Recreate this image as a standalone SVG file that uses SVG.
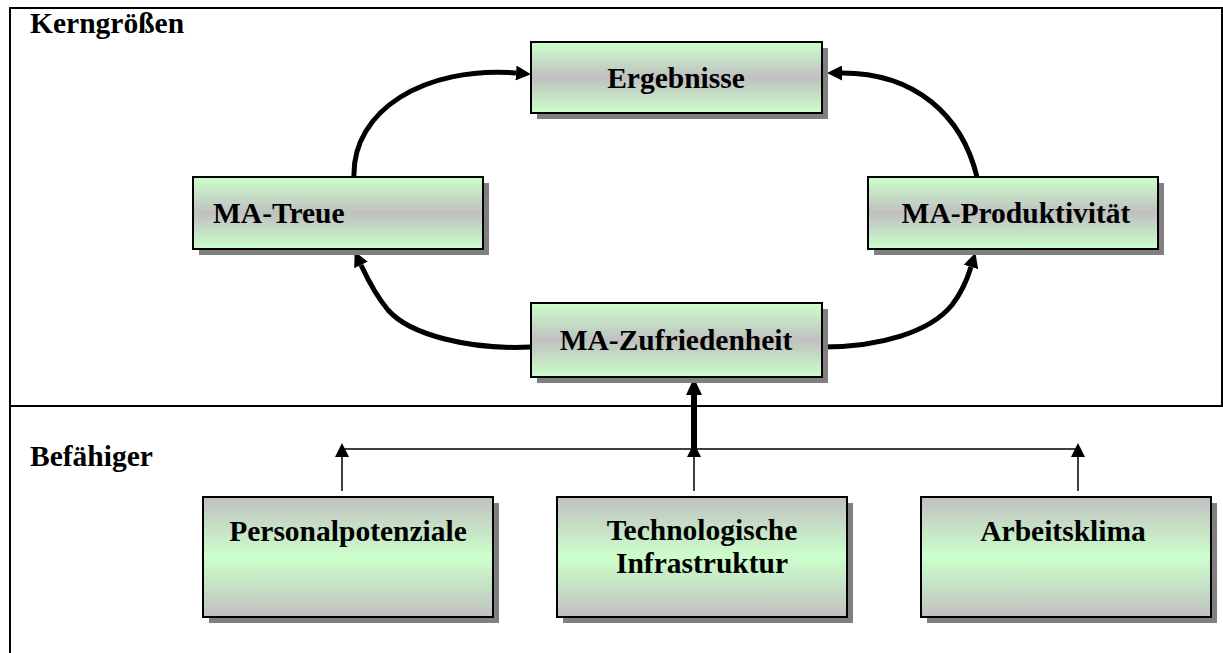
<svg xmlns="http://www.w3.org/2000/svg" width="1223" height="653" viewBox="0 0 1223 653">
  <defs>
    <!-- core nodes: green edges, grey band in the middle -->
    <linearGradient id="gradCore" x1="0" y1="0" x2="0" y2="1">
      <stop offset="0" stop-color="#ccffcc"/>
      <stop offset="0.5" stop-color="#c0c0c0"/>
      <stop offset="1" stop-color="#ccffcc"/>
    </linearGradient>
    <!-- enabler nodes: grey edges, green band in the middle -->
    <linearGradient id="gradEnabler" x1="0" y1="0" x2="0" y2="1">
      <stop offset="0" stop-color="#c0c0c0"/>
      <stop offset="0.5" stop-color="#ccffcc"/>
      <stop offset="1" stop-color="#c0c0c0"/>
    </linearGradient>
    <marker id="headBold" markerUnits="userSpaceOnUse" viewBox="0 0 15 15" refX="0" refY="7.5" markerWidth="15" markerHeight="15" orient="auto">
      <path d="M0,0 L15,7.5 L0,15 Z" fill="#000"/>
    </marker>
    <marker id="headThin" markerUnits="userSpaceOnUse" viewBox="0 0 14 14" refX="0" refY="7" markerWidth="14" markerHeight="14" orient="auto">
      <path d="M0,0 L14,7 L0,14 Z" fill="#000"/>
    </marker>
    <marker id="headThick" markerUnits="userSpaceOnUse" viewBox="0 0 17 16" refX="0" refY="8" markerWidth="17" markerHeight="16" orient="auto">
      <path d="M0,0 L17,8 L0,16 Z" fill="#000"/>
    </marker>
  </defs>
  <style>
    .frame { stroke: #000; stroke-width: 2; fill: none; }
    .shadow { fill: #808080; }
    .box { stroke: #000; stroke-width: 2; }
    .core { fill: url(#gradCore); }
    .enabler { fill: url(#gradEnabler); }
    .label { font-family: "Liberation Serif", "Times New Roman", serif; font-weight: bold; font-size: 29.5px; fill: #000; }
    .mid { text-anchor: middle; }
    .curve { stroke: #000; stroke-width: 5; fill: none; marker-end: url(#headBold); }
    .thin { stroke: #000; stroke-width: 1.5; fill: none; }
    .thinArrow { stroke: #000; stroke-width: 1.5; fill: none; marker-end: url(#headThin); }
    .thickArrow { stroke: #000; stroke-width: 6; fill: none; marker-end: url(#headThick); }
  </style>

  <rect width="1223" height="653" fill="#fff"/>

  <!-- frame and section divider -->
  <g id="frame">
    <line class="frame" x1="9" y1="8" x2="1223" y2="8"/>
    <line class="frame" x1="10" y1="8" x2="10" y2="653"/>
    <line class="frame" x1="1222" y1="8" x2="1222" y2="406"/>
    <line class="frame" x1="10" y1="406" x2="1223" y2="406"/>
    <text class="label" x="30" y="33">Kerngrößen</text>
    <text class="label" x="30" y="466">Befähiger</text>
  </g>

  <!-- connectors -->
  <g id="connectors">
    <path class="curve" d="M354,177 C352,110 425,66 516,73"/>
    <path class="curve" d="M977,177 C962,115 915,73 842,73"/>
    <path class="curve" d="M531,347 C470,350 410,335 388,310 C378,298 368,280 361,265"/>
    <path class="curve" d="M823,347 C880,347 930,332 952,305 C962,292 967,280 971,267"/>

    <line class="thin" x1="342" y1="449" x2="1078" y2="449"/>
    <line class="thinArrow" x1="342" y1="491" x2="342" y2="457"/>
    <line class="thinArrow" x1="694" y1="491" x2="694" y2="457"/>
    <line class="thinArrow" x1="1078" y1="491" x2="1078" y2="457"/>
    <line class="thickArrow" x1="694" y1="452" x2="694" y2="395"/>
  </g>

  <g id="node-ergebnisse">
    <rect class="shadow" x="537" y="48" width="291" height="71"/>
    <rect class="box core" x="531" y="42" width="291" height="71"/>
    <text class="label mid" x="676" y="88">Ergebnisse</text>
  </g>

  <g id="node-ma-treue">
    <rect class="shadow" x="199" y="183" width="290" height="72"/>
    <rect class="box core" x="193" y="177" width="290" height="72"/>
    <text class="label" x="213" y="223">MA-Treue</text>
  </g>

  <g id="node-ma-produktivitaet">
    <rect class="shadow" x="874" y="183" width="290" height="72"/>
    <rect class="box core" x="868" y="177" width="290" height="72"/>
    <text class="label mid" x="1016" y="223">MA-Produktivität</text>
  </g>

  <g id="node-ma-zufriedenheit">
    <rect class="shadow" x="537" y="309" width="291" height="74"/>
    <rect class="box core" x="531" y="303" width="291" height="74"/>
    <text class="label mid" x="676" y="350">MA-Zufriedenheit</text>
  </g>

  <g id="node-personalpotenziale">
    <rect class="shadow" x="209" y="503" width="290" height="120"/>
    <rect class="box enabler" x="203" y="497" width="290" height="120"/>
    <text class="label mid" x="348" y="541">Personalpotenziale</text>
  </g>

  <g id="node-technologische-infrastruktur">
    <rect class="shadow" x="563" y="503" width="290" height="120"/>
    <rect class="box enabler" x="557" y="497" width="290" height="120"/>
    <text class="label mid" x="702" y="540">Technologische</text>
    <text class="label mid" x="702" y="573">Infrastruktur</text>
  </g>

  <g id="node-arbeitsklima">
    <rect class="shadow" x="927" y="503" width="290" height="120"/>
    <rect class="box enabler" x="921" y="497" width="290" height="120"/>
    <text class="label mid" x="1063" y="541">Arbeitsklima</text>
  </g>
</svg>
